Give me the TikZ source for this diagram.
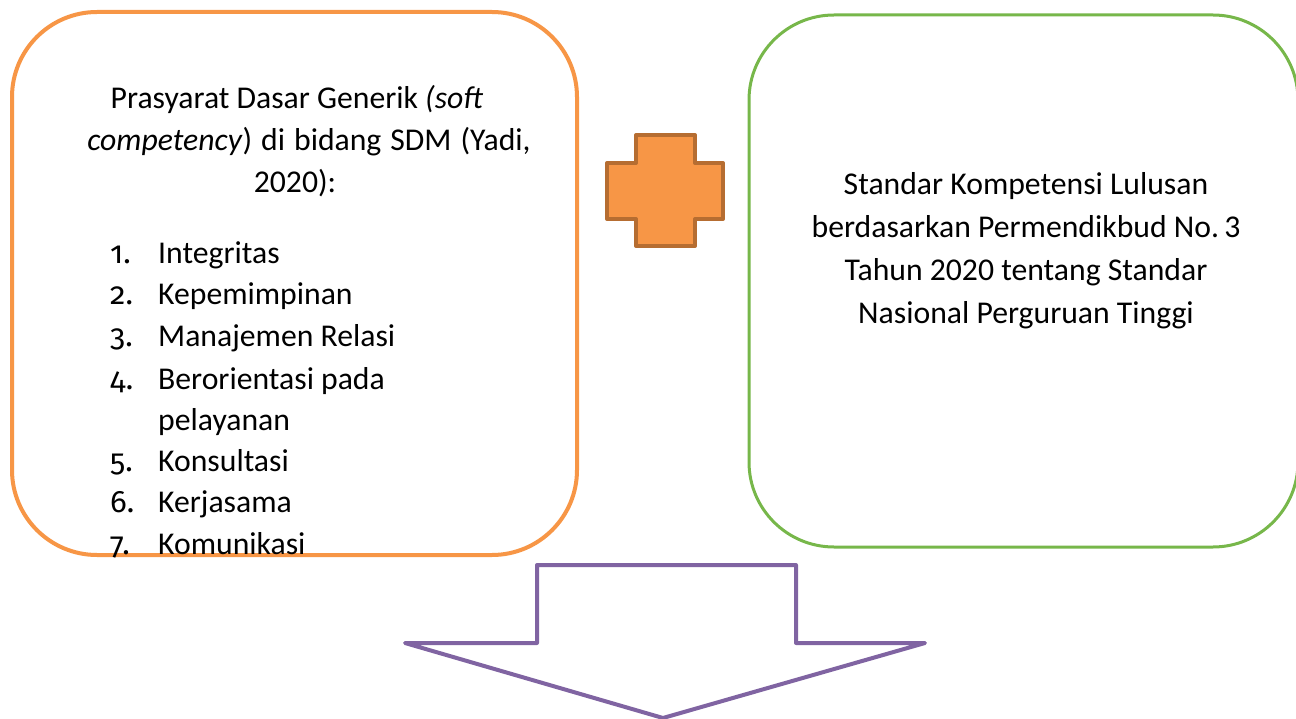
\documentclass[tikz,border=0pt]{standalone}
\usepackage{fontspec}
\setmainfont{Carlito}
\newfontfamily\numfont[Numbers=OldStyle]{Fira Sans}
\definecolor{boxorange}{HTML}{F79646}
\definecolor{crossedge}{HTML}{B66D31}
\definecolor{boxgreen}{HTML}{77B74A}
\definecolor{arrowpurple}{HTML}{8064A2}
\newcommand{\wsp}{\hspace{9pt}}
\begin{document}
\begin{tikzpicture}[x=1pt,y=-1pt,
  txt/.style={anchor=base,inner sep=0pt,font=\fontsize{31.7}{38}\selectfont},
  numtxt/.style={anchor=base west,inner sep=0pt,font=\fontsize{31}{38}\selectfont\numfont},
  itemtxt/.style={anchor=base west,inner sep=0pt,font=\fontsize{31.7}{38}\selectfont},
  roundbox/.style={draw,rounded corners=85pt,inner sep=0pt,fill=white}]
\useasboundingbox (0,0) rectangle (1296,719);
% boxes
\node[roundbox,draw=boxorange,line width=4pt,minimum width=565pt,minimum height=543pt] (left) at (294.5,283.5) {};
\node[roundbox,draw=boxgreen,line width=3pt,minimum width=549pt,minimum height=532pt] (right) at (1023.5,281) {};
% plus
\draw[fill=boxorange,draw=crossedge,line width=4pt,line join=round]
  (636,135) -- (695,135) -- (695,163) -- (723,163) -- (723,219) -- (695,219) -- (695,246)
  -- (636,246) -- (636,219) -- (607,219) -- (607,163) -- (636,163) -- cycle;
% arrow
\draw[draw=arrowpurple,line width=4pt,line join=round,fill=white]
  (537,565) -- (796,565) -- (796,643) -- (925,643) -- (663,718) -- (405,643) -- (537,643) -- cycle;
% left text
\node[txt] (h1) at (297,109) {Prasyarat Dasar Generik \textit{(soft}};
\node[txt] (h2) at (309,151) {\textit{competency})\wsp di\wsp bidang\wsp SDM\wsp (Yadi,};
\node[txt] (h3) at (295,193) {2020):};
\foreach \n/\t/\y in {1/Integritas/264,2/Kepemimpinan/305,3/Manajemen Relasi/347,4/Berorientasi pada/389,5/Konsultasi/471,6/Kerjasama/512,7/Komunikasi/554}{
  \node[numtxt] (n\n) at (110,\y) {\n.};
  \node[itemtxt] (i\n) at (158,\y) {\t};
}
\node[itemtxt] (i4b) at (158,430) {pelayanan};
% right text
\node[txt] (r1) at (1026,195) {Standar Kompetensi Lulusan};
\node[txt] (r2) at (1026,238) {berdasarkan Permendikbud No.\,3};
\node[txt] (r3) at (1026,281) {Tahun 2020 tentang Standar};
\node[txt] (r4) at (1026,324) {Nasional Perguruan Tinggi};
\end{tikzpicture}
\end{document}
